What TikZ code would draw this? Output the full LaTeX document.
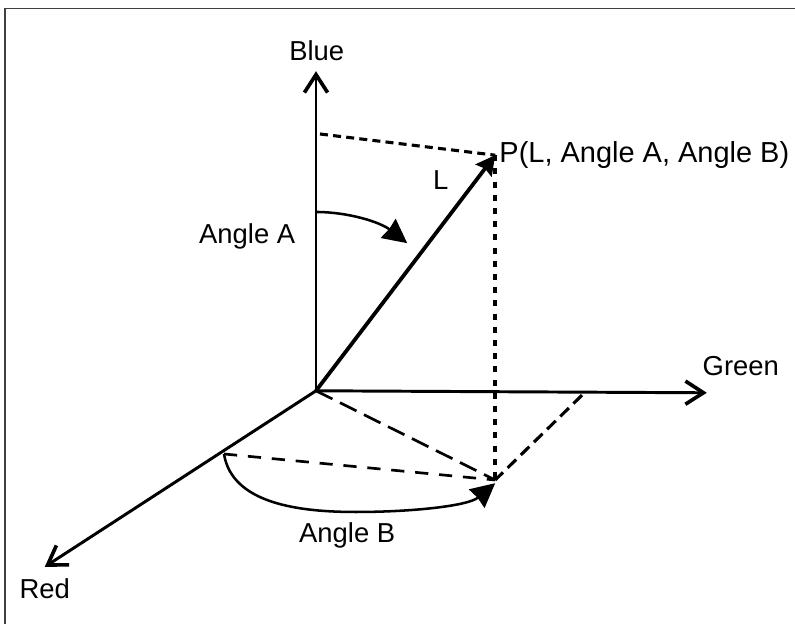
\documentclass[tikz,border=0pt]{standalone}
\usepackage{fontspec}
\setmainfont{Liberation Sans}
\usetikzlibrary{arrows.meta,positioning}

\begin{document}
\begin{tikzpicture}[x=1cm,y=1cm]
\tikzset{
  framebox/.style={draw=black!75,line width=1pt},
  axis/.style={draw=black,line width=2.1pt,line cap=round,-{Straight Barb[length=4.5mm,width=5.8mm,line width=2.6pt]}},
  vector/.style={draw=black,line width=2.7pt,-{Stealth[length=4.8mm,width=5mm,inset=0.6mm]}},
  sweep/.style={draw=black,line width=1.8pt,-{Stealth[length=6mm,width=6mm,inset=0.3mm]}},
  shortdash/.style={draw=black,line width=2.2pt,dash pattern=on 2mm off 1.3mm},
  floordash/.style={draw=black,line width=2.2pt,dash pattern=on 3mm off 1.6mm},
  longdash/.style={draw=black,line width=1.9pt,dash pattern=on 4.6mm off 2.1mm},
  basedash/.style={draw=black,line width=1.9pt,dash pattern=on 3.3mm off 2.7mm},
  heavydot/.style={draw=black,line width=2.6pt,dash pattern=on 1.5mm off 1.8mm},
  axislabel/.style={inner sep=0pt,font=\fontsize{19.5}{24}\selectfont},
  pointlabel/.style={inner sep=0pt,anchor=west,font=\fontsize{20.6}{24}\selectfont}
}
\useasboundingbox (0,0) rectangle (19.875,15.6);
\draw[framebox] (0.13,0) -- (0.13,15.39) -- (19.875,15.39);
\coordinate (n_O) at (7.90,5.83);
\coordinate (n_B) at (7.90,13.82);
\coordinate (n_G) at (17.67,5.78);
\coordinate (n_R) at (1.12,1.43);
\coordinate (n_P) at (12.38,11.72);
\coordinate (n_F) at (12.38,3.60);
\coordinate (n_Bf) at (8.00,12.25);
\coordinate (n_Gf) at (14.55,5.72);
\coordinate (n_Rf) at (5.60,4.25);
\coordinate (n_Aa) at (7.90,10.30);
\coordinate (n_Ab) at (10.18,9.52);
\coordinate (n_Bb) at (12.38,3.52);
\node[axislabel] (l_B) at (7.92,14.32) {Blue};
\node[axislabel] (l_G) at (18.52,6.45) {Green};
\node[axislabel] (l_R) at (1.12,0.87) {Red};
\node[axislabel] (l_L) at (11.02,11.10) {L};
\node[axislabel] (l_A) at (6.18,9.68) {Angle A};
\node[axislabel] (l_Ba) at (8.68,2.22) {Angle B};
\node[pointlabel] (l_P) at (12.48,11.72) {P(L, Angle A, Angle B)};
\draw[axis] (n_O) -- (n_B);
\draw[axis] (n_O) -- (n_G);
\draw[axis] (n_O) -- (n_R);
\draw[vector] (n_O) -- (n_P);
\draw[shortdash] (n_Bf) -- (n_P);
\draw[heavydot] (n_P) -- (n_F);
\draw[longdash] (n_O) -- (n_F);
\draw[basedash] (n_Rf) -- (n_F);
\draw[floordash] (n_Gf) -- (n_F);
\draw[sweep] (n_Aa) .. controls (8.70,10.30) and (9.50,10.05) .. (n_Ab);
\draw[sweep] (n_Rf) .. controls (5.80,3.00) and (7.50,2.80) .. (8.90,2.80) .. controls (10.30,2.80) and (11.70,2.95) .. (n_Bb);
\end{tikzpicture}
\end{document}
